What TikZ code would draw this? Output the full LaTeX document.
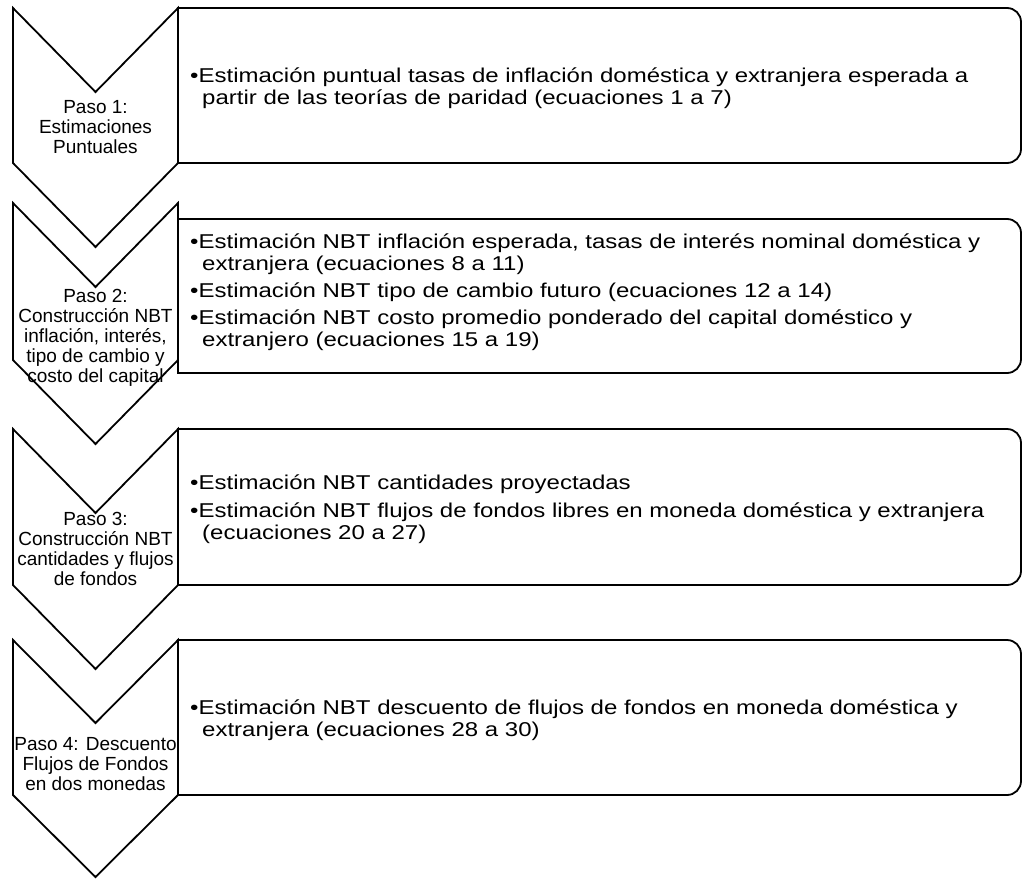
\documentclass[tikz,border=0pt]{standalone}
\usepackage{fontspec}
\setmainfont{Liberation Sans}
\newfontfamily\cajafont[FakeStretch=1.2]{Liberation Sans}
\tikzset{
  paso/.style={draw, line width=1.8pt, line join=miter},
  caja/.style={draw, line width=1.8pt},
  etiq/.style={align=center, inner sep=0pt, font=\fontsize{19}{20}\selectfont},
  linea/.style={anchor=base west, inner sep=0pt, font=\cajafont\fontsize{20}{22}\selectfont},
}
\begin{document}
\begin{tikzpicture}[x=1pt, y=-1pt]
  \useasboundingbox (0,0) rectangle (1024,878);
  % chevrons
  \draw [paso] (13,8) -- (95.5,92) -- (178,8) -- (178,163) -- (95.5,247) -- (13,163) -- cycle;
  \draw [paso] (13,203) -- (95.5,287) -- (178,203) -- (178,360) -- (95.5,444) -- (13,360) -- cycle;
  \draw [paso] (13,429) -- (95.5,513) -- (178,429) -- (178,585) -- (95.5,669) -- (13,585) -- cycle;
  \draw [paso] (13,640) -- (95.5,723) -- (178,640) -- (178,795) -- (95.5,877) -- (13,795) -- cycle;
  % cajas
  \draw [caja] (178,163) -- (178,8) [rounded corners=14pt] -- (1021,8) -- (1021,163) [sharp corners] -- cycle;
  \draw [caja] (178,373) -- (178,219) [rounded corners=14pt] -- (1021,219) -- (1021,373) [sharp corners] -- cycle;
  \draw [caja] (178,585) -- (178,429) [rounded corners=14pt] -- (1021,429) -- (1021,585) [sharp corners] -- cycle;
  \draw [caja] (178,795) -- (178,640) [rounded corners=14pt] -- (1021,640) -- (1021,795) [sharp corners] -- cycle;
  % pasos
  \node [etiq] (paso1) at (95.5,127) {Paso 1:\\Estimaciones\\Puntuales};
  \node [etiq] (paso2) at (95.5,338) {Paso 2:\\Construcción NBT\\inflación, interés,\\tipo de cambio y\\costo del capital};
  \node [etiq] (paso3) at (95.5,549) {Paso 3:\\Construcción NBT\\cantidades y flujos\\de fondos};
  \node [etiq] (paso4) at (95.5,764) {Paso 4: Descuento\\Flujos de Fondos\\en dos monedas};
  % texto de las cajas
  \node [linea] (t1a) at (190,82) {•Estimación puntual tasas de inflación doméstica y extranjera esperada a};
  \node [linea] (t1b) at (202,104) {partir de las teorías de paridad (ecuaciones 1 a 7)};
  \node [linea] (t2a) at (190,248) {•Estimación NBT inflación esperada, tasas de interés nominal doméstica y};
  \node [linea] (t2b) at (202,270) {extranjera (ecuaciones 8 a 11)};
  \node [linea] (t2c) at (190,297) {•Estimación NBT tipo de cambio futuro (ecuaciones 12 a 14)};
  \node [linea] (t2d) at (190,324) {•Estimación NBT costo promedio ponderado del capital doméstico y};
  \node [linea] (t2e) at (202,346) {extranjero (ecuaciones 15 a 19)};
  \node [linea] (t3a) at (190,489) {•Estimación NBT cantidades proyectadas};
  \node [linea] (t3b) at (190,517) {•Estimación NBT flujos de fondos libres en moneda doméstica y extranjera};
  \node [linea] (t3c) at (202,539) {(ecuaciones 20 a 27)};
  \node [linea] (t4a) at (190,714) {•Estimación NBT descuento de flujos de fondos en moneda doméstica y};
  \node [linea] (t4b) at (202,736) {extranjera (ecuaciones 28 a 30)};
\end{tikzpicture}
\end{document}
